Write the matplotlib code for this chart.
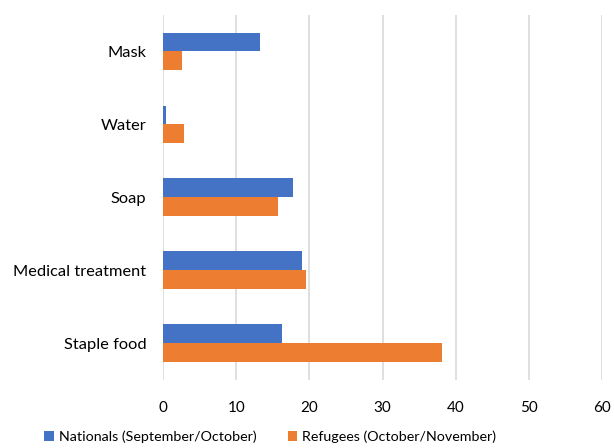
import numpy as np
import matplotlib
matplotlib.use("Agg")
import matplotlib.pyplot as plt

# ---------- data ----------
categories = ["Mask", "Water", "Soap", "Medical treatment", "Staple food"]
nationals = [13.3, 0.45, 17.75, 19.0, 16.25]
refugees = [2.55, 2.9, 15.65, 19.6, 38.1]
x_ticks = [0, 10, 20, 30, 40, 50, 60]

BLUE = "#4472C4"
ORANGE = "#ED7D31"

plt.rcParams["font.family"] = ["Lato", "DejaVu Sans"]

fig = plt.figure(figsize=(6.14, 4.48), dpi=100)
ax = fig.add_axes([0.2655, 0.152, 0.715, 0.8145])

y = np.arange(len(categories))
h = 0.26
ax.barh(y - h / 2, nationals, height=h, color=BLUE, label="Nationals (September/October)")
ax.barh(y + h / 2, refugees, height=h, color=ORANGE, label="Refugees (October/November)")

ax.set_ylim(len(categories) - 0.5, -0.5)
ax.set_yticks(y)
ax.set_yticklabels(categories, fontsize=11.8, color="#000000")
ax.set_xlim(0, 60)
ax.set_xticks(x_ticks)
ax.set_xticklabels([str(v) for v in x_ticks], fontsize=11, color="#000000")
ax.tick_params(length=0)
ax.tick_params(axis="y", pad=12)
ax.tick_params(axis="x", pad=15)

for s in ax.spines.values():
    s.set_visible(False)
ax.grid(axis="x", color="#D9D9D9", lw=1.2)
ax.set_axisbelow(True)

fig.legend(loc="center", bbox_to_anchor=(0.44, 0.025), ncol=2, frameon=False,
           fontsize=10.3, handlelength=0.68, handleheight=0.68, handletextpad=0.35,
           columnspacing=2.2)

fig.savefig("out.png", dpi=100)
